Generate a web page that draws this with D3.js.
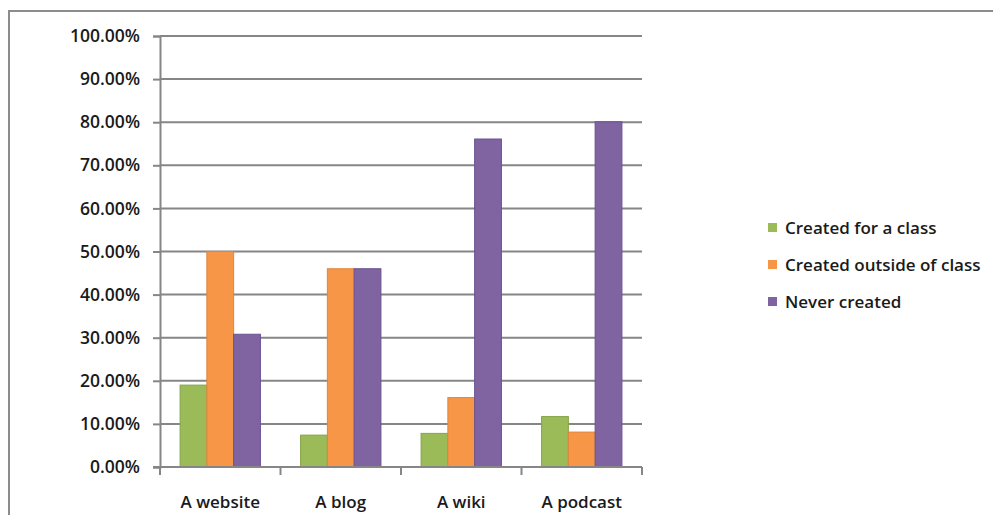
<!DOCTYPE html>
<html>
<head>
<meta charset="utf-8">
<script src="https://cdn.jsdelivr.net/npm/d3@7/dist/d3.min.js"></script>
<style>
  html, body { margin: 0; padding: 0; background: #fff; }
  svg { display: block; }
  text { font-family: "Open Sans", "Liberation Sans", sans-serif; fill: #1a1a1a; }
</style>
</head>
<body>
<svg id="chart" width="993" height="515"></svg>
<script>
// Categories and series (share of respondents, %)
const categories = ["A website", "A blog", "A wiki", "A podcast"];
const seriesNames = ["Created for a class", "Created outside of class", "Never created"];
const createdForClass = [19.0, 7.4, 7.8, 11.7];
const createdOutside = [50.0, 46.0, 16.1, 8.1];
const neverCreated = [30.8, 46.0, 76.1, 80.1];
const yTicks = [0, 10, 20, 30, 40, 50, 60, 70, 80, 90, 100];
const colors = ["#9bbb59", "#f79646", "#8064a2"];
const strokes = ["#86a34a", "#e0843a", "#6a5190"];

const seriesValues = [createdForClass, createdOutside, neverCreated];

const svg = d3.select("#chart");

// outer chart frame
svg.append("rect")
  .attr("x", 9).attr("y", 11)
  .attr("width", 1000).attr("height", 520)
  .attr("fill", "#fff")
  .attr("stroke", "#8c8c8c")
  .attr("stroke-width", 2);

const plot = { left: 160, right: 642, top: 36, bottom: 467 };

const x = d3.scaleBand()
  .domain(categories)
  .range([plot.left, plot.right])
  .paddingInner(0).paddingOuter(0);

// bars take 80/120 of each band (gap width 150%)
const inner = d3.scaleBand()
  .domain(d3.range(seriesNames.length))
  .range([0, x.bandwidth()])
  .paddingInner(0)
  .paddingOuter(0.75);

const y = d3.scaleLinear().domain([0, 100]).range([plot.bottom, plot.top]);

// gridlines
svg.append("g")
  .selectAll("line")
  .data(yTicks.filter(t => t > 0))
  .join("line")
  .attr("x1", plot.left).attr("x2", plot.right)
  .attr("y1", d => y(d)).attr("y2", d => y(d))
  .attr("stroke", "#868686")
  .attr("stroke-width", 2);

// y axis
const yAxis = d3.axisLeft(y)
  .tickValues(yTicks)
  .tickFormat(d => d.toFixed(2) + "%")
  .tickSize(7)
  .tickPadding(13);

const gy = svg.append("g")
  .attr("transform", `translate(${plot.left},0)`)
  .call(yAxis);
gy.select(".domain").attr("stroke", "#868686").attr("stroke-width", 2);
gy.selectAll(".tick line").attr("stroke", "#868686").attr("stroke-width", 2);
gy.selectAll(".tick text")
  .attr("font-size", 17.5)
  .attr("font-weight", 600)
  .attr("fill", "#1a1a1a")
  .style("font-family", "'Open Sans', sans-serif");

// bars
const groups = svg.append("g")
  .selectAll("g")
  .data(categories)
  .join("g")
  .attr("transform", d => `translate(${x(d)},0)`);

groups.selectAll("rect")
  .data((c, i) => seriesValues.map((vals, s) => ({ s, v: vals[i] })))
  .join("rect")
  .attr("x", d => inner(d.s))
  .attr("width", inner.bandwidth())
  .attr("y", d => y(d.v))
  .attr("height", d => y(0) - y(d.v))
  .attr("fill", d => colors[d.s])
  .attr("stroke", d => strokes[d.s])
  .attr("stroke-width", 1);

// x axis
const xTickPositions = d3.range(categories.length + 1).map(i => plot.left + i * x.bandwidth());
svg.append("line")
  .attr("x1", plot.left - 7).attr("x2", plot.right)
  .attr("y1", plot.bottom).attr("y2", plot.bottom)
  .attr("stroke", "#868686").attr("stroke-width", 2);
svg.append("g")
  .selectAll("line")
  .data(xTickPositions)
  .join("line")
  .attr("x1", d => d).attr("x2", d => d)
  .attr("y1", plot.bottom).attr("y2", plot.bottom + 8)
  .attr("stroke", "#868686").attr("stroke-width", 2);

svg.append("g")
  .selectAll("text")
  .data(categories)
  .join("text")
  .attr("x", d => x(d) + x.bandwidth() / 2)
  .attr("y", 508)
  .attr("text-anchor", "middle")
  .attr("font-size", 17)
  .attr("font-weight", 600)
  .text(d => d);

// legend
const legend = svg.append("g")
  .selectAll("g")
  .data(seriesNames)
  .join("g")
  .attr("transform", (d, i) => `translate(768,${228 + i * 37})`);
legend.append("rect")
  .attr("x", 0).attr("y", -5)
  .attr("width", 9).attr("height", 9)
  .attr("fill", (d, i) => colors[i]);
legend.append("text")
  .attr("x", 17).attr("y", 0)
  .attr("dy", "0.35em")
  .attr("font-size", 17)
  .attr("font-weight", 600)
  .text(d => d);
</script>
</body>
</html>
